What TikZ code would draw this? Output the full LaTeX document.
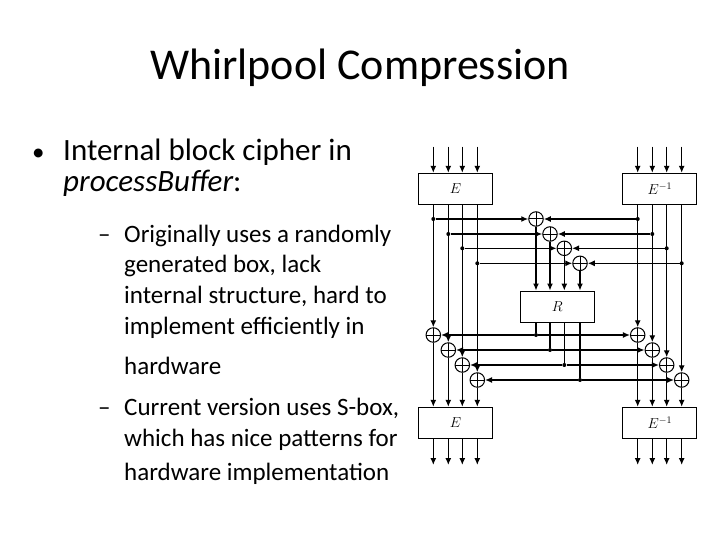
\documentclass[tikz,border=0pt]{standalone}
\usepackage{fontspec}
\setmainfont{Carlito}
\usetikzlibrary{arrows.meta}
\begin{document}
\begin{tikzpicture}[x=1pt,y=-1pt,
  ln/.style={line width=1.3pt,-{Latex[length=7pt,width=6pt]}},
  pl/.style={line width=1.3pt},
  bx/.style={draw,line width=1.3pt,minimum width=74pt,minimum height=31pt,inner sep=0pt,font=\fontsize{14}{16}\selectfont},
  xr/.style={draw,circle,line width=1pt,minimum size=14.5pt,inner sep=0pt,path picture={\draw[line width=1pt] (path picture bounding box.north)--(path picture bounding box.south) (path picture bounding box.west)--(path picture bounding box.east);}},
  dt/.style={circle,fill,inner sep=0pt,minimum size=4pt},
  tx/.style={anchor=base west,inner sep=0pt,font=\fontsize{31}{36}\selectfont},
  sx/.style={anchor=base west,inner sep=0pt,font=\fontsize{25}{30}\selectfont}]
\useasboundingbox (0,0) rectangle (720,540);
\node[font=\fontsize{44}{50}\selectfont] (title) at (360,68) {Whirlpool Compression};
\node[sx] (b1) at (32,161) {•};
\node[tx] (t1) at (63,161) {Internal block cipher in};
\node[tx] (t2) at (63,192) {\itshape processBuffer\upshape:};
\node[sx] (d1) at (98,242) {–};
\node[sx] (t3) at (124,242) {Originally uses a randomly};
\node[sx] (t4) at (124,272) {generated box, lack};
\node[sx] (t5) at (124,303) {internal structure, hard to};
\node[sx] (t6) at (124,334) {implement efficiently in};
\node[sx] (t7) at (124,374) {hardware};
\node[sx] (d2) at (98,415) {–};
\node[sx] (t8) at (124,415) {Current version uses S-box,};
\node[sx] (t9) at (124,446) {which has nice patterns for};
\node[sx] (t10) at (124,480) {hardware implementation};
% boxes
\node[bx] (E1) at (455.5,189) {$E$};
\node[bx] (F1) at (659.8,189) {$E^{-1}$};
\node[bx] (R) at (557.2,306.7) {$R$};
\node[bx] (E2) at (455.5,423) {$E$};
\node[bx] (F2) at (659.8,423) {$E^{-1}$};
\foreach \i/\lx/\rx/\ty/\tx/\by in
  {1/433.3/637.7/219/536/335,
   2/448.3/652.3/234/550/350,
   3/462.3/666.7/248.3/564.3/365,
   4/477.3/681.7/263.3/580/380}{
  \coordinate (ia\i) at (\lx,146.7);
  \coordinate (ib\i) at (\rx,146.7);
  \draw[ln] (ia\i) -- (ia\i|-E1.north);
  \draw[ln] (ib\i) -- (ib\i|-F1.north);
  \node[xr] (tx\i) at (\tx,\ty) {};
  \node[dt] (tl\i) at (\lx,\ty) {};
  \node[dt] (tr\i) at (\rx,\ty) {};
  \draw[ln] (tl\i) -- (tx\i.west);
  \draw[ln] (tr\i) -- (tx\i.east);
  \draw[ln] (tx\i.south) -- (tx\i|-R.north);
  \node[xr] (lx\i) at (\lx,\by) {};
  \node[xr] (rx\i) at (\rx,\by) {};
  \node[dt] (rd\i) at (\tx,\by) {};
  \draw[pl] (rd\i|-R.south) -- (rd\i);
  \draw[ln] (rd\i) -- (lx\i.east);
  \draw[ln] (rd\i) -- (rx\i.west);
  \draw[ln] (lx\i|-E1.south) -- (lx\i.north);
  \draw[ln] (lx\i.south) -- (lx\i|-E2.north);
  \draw[ln] (rx\i|-F1.south) -- (rx\i.north);
  \draw[ln] (rx\i.south) -- (rx\i|-F2.north);
  \coordinate (oa\i) at (\lx,465);
  \coordinate (ob\i) at (\rx,465);
  \draw[ln] (oa\i|-E2.south) -- (oa\i);
  \draw[ln] (ob\i|-F2.south) -- (ob\i);
}
\end{tikzpicture}
\end{document}
